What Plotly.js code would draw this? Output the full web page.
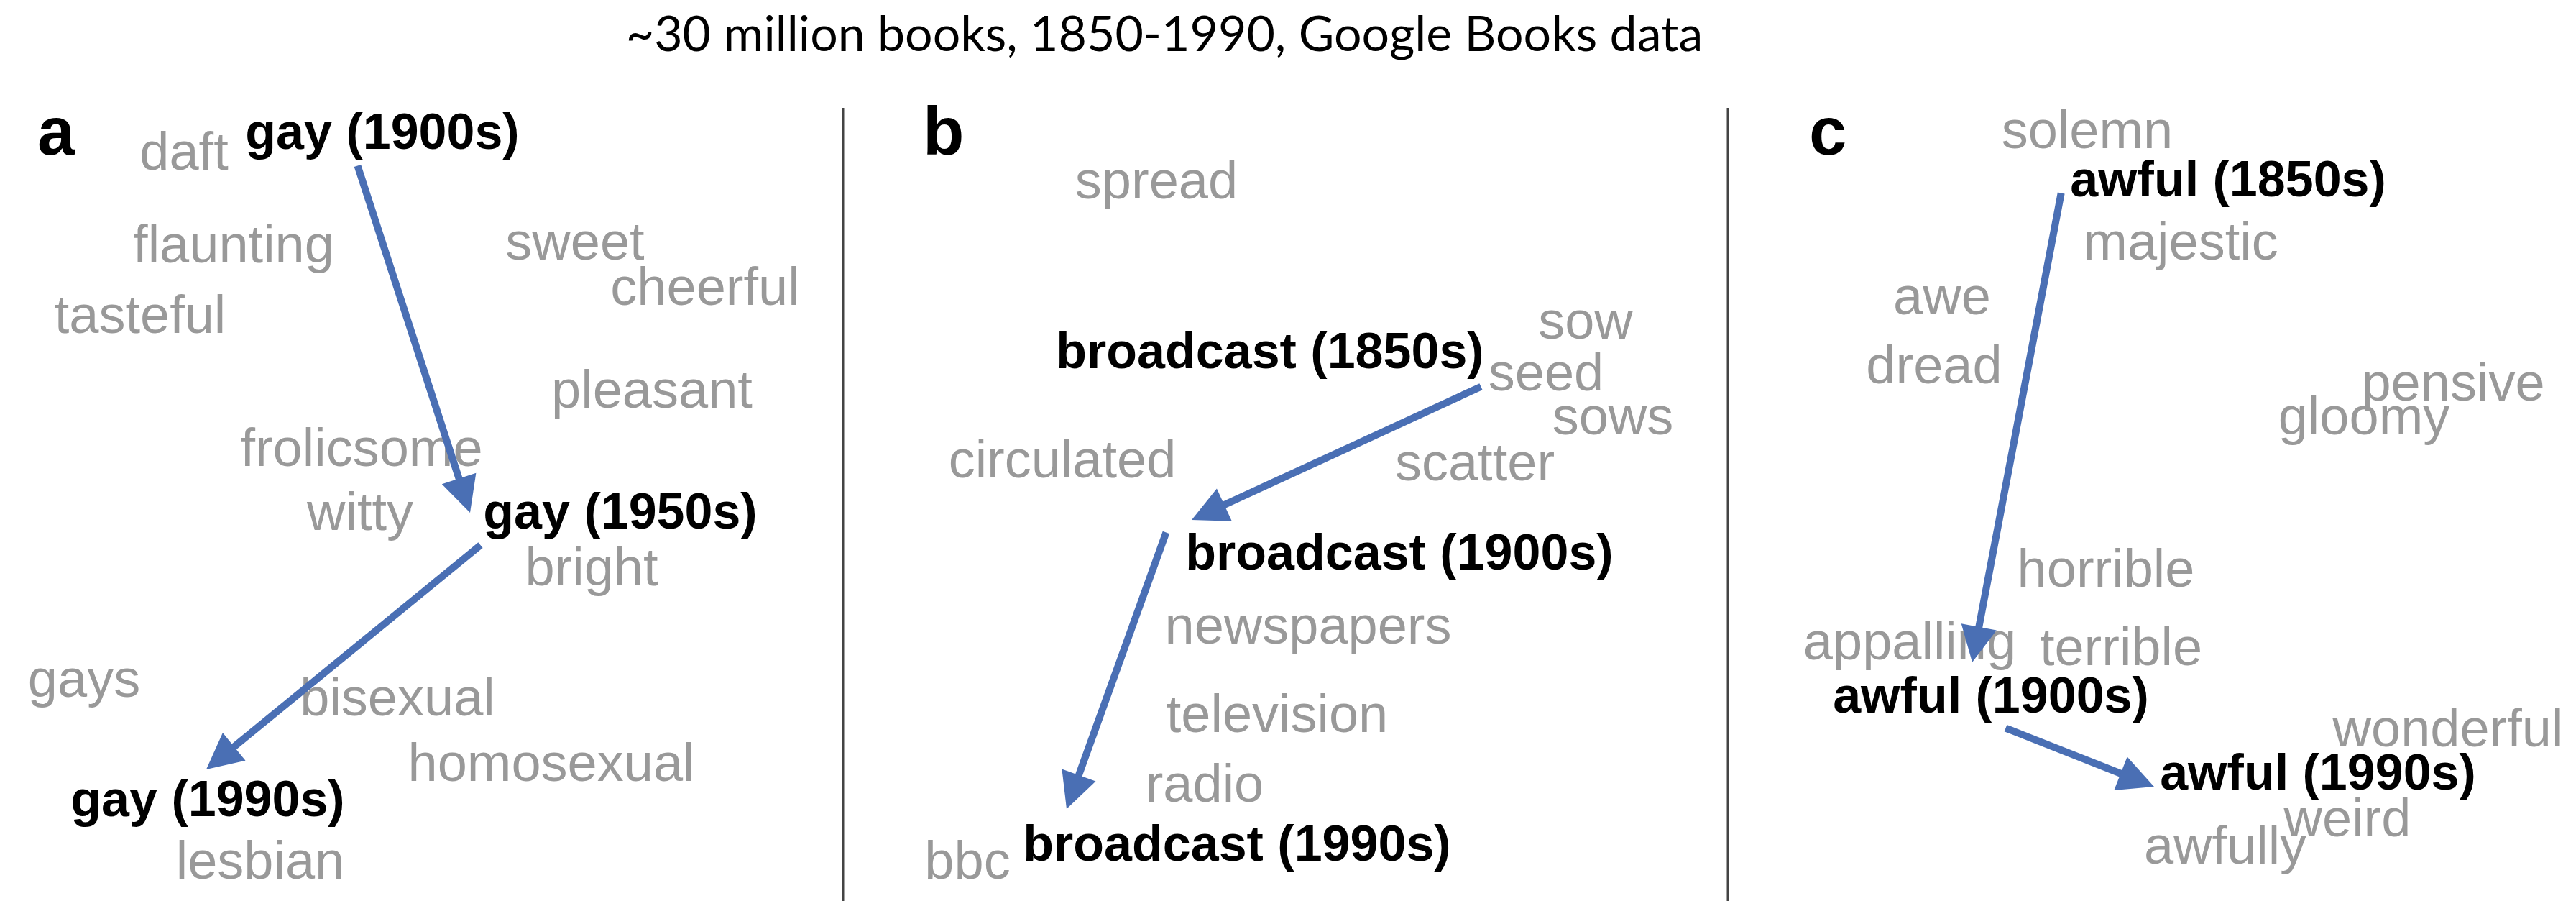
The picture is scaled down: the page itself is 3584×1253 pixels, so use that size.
<!DOCTYPE html>
<html><head><meta charset="utf-8">
<script src="https://cdn.plot.ly/plotly-3.0.1.min.js"></script>
<style>html,body{margin:0;padding:0;background:#fff}#chart{width:3584px;height:1253px}</style>
</head><body><div id="chart"></div>
<script>
// ---- Panel a: "gay" ----
const wordsA = ['daft','flaunting','sweet','cheerful','tasteful','pleasant','frolicsome','witty','bright','gays','bisexual','homosexual','lesbian'];
const xA = [2.56, 3.25, 8.00, 9.81, 1.95, 9.07, 5.03, 5.01, 8.23, 1.17, 5.53, 7.67, 3.62];
const yA = [10.36, 9.07, 9.11, 8.48, 8.09, 7.05, 6.24, 5.35, 4.58, 3.03, 2.77, 1.86, 0.50];
const keysA = ['gay (1900s)','gay (1950s)','gay (1990s)'];
const keyXA = [5.32, 8.63, 2.89];
const keyYA = [10.64, 5.36, 1.36];
const arrFromXA = [4.97, 6.70], arrFromYA = [10.24, 4.96];
const arrToXA = [6.54, 2.87], arrToYA = [5.40, 1.83];

// ---- Panel b: "broadcast" ----
const wordsB = ['spread','sow','seed','sows','circulated','scatter','newspapers','television','radio','bbc'];
const xB = [4.36, 10.33, 9.78, 10.71, 3.05, 8.79, 6.47, 6.04, 5.03, 1.73];
const yB = [9.96, 8.01, 7.29, 6.68, 6.08, 6.04, 3.77, 2.54, 1.57, 0.50];
const keysB = ['broadcast (1850s)','broadcast (1900s)','broadcast (1990s)'];
const keyXB = [5.94, 7.74, 5.48];
const keyYB = [7.59, 4.79, 0.74];
const arrFromXB = [8.89, 4.50], arrFromYB = [7.16, 5.14];
const arrToXB = [4.85, 3.11], arrToYB = [5.30, 1.28];

// ---- Panel c: "awful" ----
const wordsC = ['solemn','majestic','awe','dread','pensive','gloomy','horrible','appalling','terrible','wonderful','weird','awfully'];
const xC = [5.00, 6.30, 2.98, 2.87, 10.09, 8.85, 5.26, 2.53, 5.47, 10.02, 8.62, 6.92];
const yC = [10.66, 9.11, 8.35, 7.39, 7.15, 6.68, 4.56, 3.55, 3.47, 2.34, 1.09, 0.71];
const keysC = ['awful (1850s)','awful (1900s)','awful (1990s)'];
const keyXC = [6.96, 3.66, 8.21];
const keyYC = [9.98, 2.80, 1.73];
const arrFromXC = [4.64, 3.85], arrFromYC = [9.86, 2.41];
const arrToXC = [3.40, 5.93], arrToYC = [3.32, 1.59];

const panelLetters = ['a','b','c'];
const titleText = '~30 million books, 1850-1990, Google Books data';

const W = 3584, H = 1253;
const sep1 = 1173, sep2 = 2404;

const panels = [
  {words: wordsA, x: xA, y: yA, keys: keysA, kx: keyXA, ky: keyYA, fx: arrFromXA, fy: arrFromYA, tx: arrToXA, ty: arrToYA},
  {words: wordsB, x: xB, y: yB, keys: keysB, kx: keyXB, ky: keyYB, fx: arrFromXB, fy: arrFromYB, tx: arrToXB, ty: arrToYB},
  {words: wordsC, x: xC, y: yC, keys: keysC, kx: keyXC, ky: keyYC, fx: arrFromXC, fy: arrFromYC, tx: arrToXC, ty: arrToYC}
];
const suffix = ['', '2', '3'];
const domains = [[0, sep1 / W], [sep1 / W, sep2 / W], [sep2 / W, 1]];
const xRanges = [[0, sep1 / 100], [0, (sep2 - sep1) / 100], [0, (W - sep2) / 100]];

const FONT = 'Liberation Sans, Arial, Helvetica, sans-serif';
const GRAY = '#999999';
const BLUE = '#4a6fb4';

const traces = [];
const annotations = [];
const layout = {
  width: W, height: H,
  margin: {l: 0, r: 0, t: 0, b: 0, pad: 0},
  paper_bgcolor: '#ffffff', plot_bgcolor: '#ffffff',
  showlegend: false, hovermode: false,
  title: {text: titleText, x: 0.452, xanchor: 'center', xref: 'container', y: 0.962, yanchor: 'middle', yref: 'container',
          font: {family: 'Lato, Carlito, sans-serif', size: 68, color: '#000000'}},
  shapes: [sep1, sep2].map(s => ({type: 'line', xref: 'paper', yref: 'paper', x0: s / W, x1: s / W, y0: 0, y1: (H - 150) / H,
                                  line: {color: '#444444', width: 3}})),
  annotations: annotations
};

panels.forEach((p, i) => {
  const s = suffix[i];
  const xa = 'x' + s, ya = 'y' + s;
  layout['xaxis' + s] = {domain: domains[i], range: xRanges[i], visible: false, fixedrange: true, anchor: ya};
  layout['yaxis' + s] = {domain: [0, 1], range: [0, H / 100], visible: false, fixedrange: true, anchor: xa};
  traces.push({type: 'scatter', mode: 'text', x: p.x, y: p.y, text: p.words, xaxis: xa, yaxis: ya,
               textposition: 'middle center', cliponaxis: false, hoverinfo: 'skip',
               textfont: {family: FONT, size: 74, color: GRAY}});
  traces.push({type: 'scatter', mode: 'text', x: p.kx, y: p.ky, text: p.keys, xaxis: xa, yaxis: ya,
               textposition: 'middle center', cliponaxis: false, hoverinfo: 'skip',
               textfont: {family: FONT, size: 70, color: '#000000', weight: 700}});
  p.fx.forEach((fx, j) => {
    annotations.push({xref: xa, yref: ya, axref: xa, ayref: ya,
                      x: p.tx[j], y: p.ty[j], ax: fx, ay: p.fy[j],
                      text: '', showarrow: true, arrowhead: 2, arrowsize: 1, arrowwidth: 10,
                      arrowcolor: BLUE, standoff: 0, startstandoff: 0});
  });
});

const letterX = [78, 1312, 2543];
panelLetters.forEach((t, i) => {
  annotations.push({xref: 'paper', yref: 'paper', x: letterX[i] / W, y: (H - 183) / H,
                    xanchor: 'center', yanchor: 'middle', text: t, showarrow: false,
                    font: {family: FONT, size: 94, color: '#000000', weight: 700}});
});

Plotly.newPlot('chart', traces, layout, {staticPlot: true, displayModeBar: false});
</script></body></html>
